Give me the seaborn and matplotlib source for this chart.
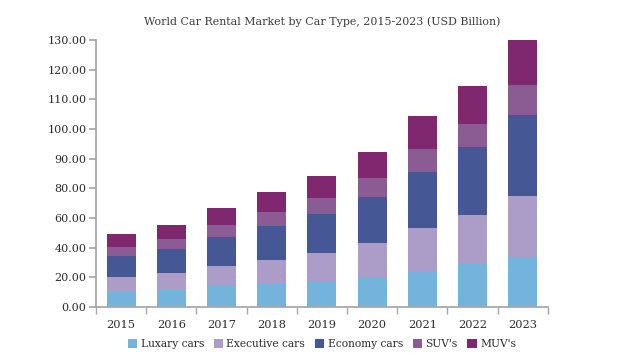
import numpy as np
import pandas as pd
import matplotlib
matplotlib.use("Agg")
import matplotlib.pyplot as plt
import seaborn as sns
from matplotlib.patches import Patch
from matplotlib.ticker import FixedLocator, FormatStrFormatter

# Data (USD Billion, per car type)
years = ["2015", "2016", "2017", "2018", "2019", "2020", "2021", "2022", "2023"]
luxury = [10.1, 11.7, 14.2, 16.4, 17.5, 19.6, 24.5, 29.0, 33.5]
executive = [9.9, 11.2, 13.2, 15.5, 18.9, 23.8, 28.8, 32.8, 41.1]
economy = [14.2, 16.2, 19.6, 22.7, 26.1, 30.8, 32.3, 32.1, 30.2]
suv = [6.0, 6.7, 8.1, 9.7, 10.8, 9.2, 7.8, 7.9, 9.9]
muv = [8.8, 9.7, 11.4, 13.2, 10.9, 9.0, 11.0, 12.8, 15.2]
series_names = ["Luxary cars", "Executive cars", "Economy cars", "SUV's", "MUV's"]
y_ticks = [0, 20, 40, 60, 80, 90, 100, 110, 120, 130]

colors = ["#74b4dc", "#ab9dc8", "#465796", "#8b5b94", "#7f2870"]

sns.set_theme(style="white")
plt.rcParams["font.family"] = ["DejaVu Serif"]


# the original axis is uneven: 20 per step up to 80, then 10 per step
def forward(v):
    v = np.asarray(v, dtype=float)
    return np.where(v <= 80, v / 20.0, 4 + (v - 80) / 10.0)


def inverse(p):
    p = np.asarray(p, dtype=float)
    return np.where(p <= 4, p * 20.0, 80 + (p - 4) * 10.0)


df = pd.DataFrame({"year": years})
layers = [luxury, executive, economy, suv, muv]
cum = np.cumsum(np.array(layers), axis=0)

fig = plt.figure(figsize=(6.4, 3.63), dpi=100)
ax = fig.add_axes([0.15, 0.154, 0.706, 0.736])

# draw cumulative totals from the top down so each layer sits on the one below
for i in range(len(layers) - 1, -1, -1):
    df["val"] = cum[i]
    sns.barplot(data=df, x="year", y="val", color=colors[i], width=0.58,
                saturation=1, ax=ax, linewidth=0)

ax.set_yscale("function", functions=(forward, inverse))
ax.set_ylim(0, 130)
ax.yaxis.set_major_locator(FixedLocator(y_ticks))
ax.yaxis.set_major_formatter(FormatStrFormatter("%.2f"))
ax.yaxis.set_minor_locator(FixedLocator([]))
ax.set_xlim(-0.5, len(years) - 0.5)
ax.set_xticks(range(len(years)))
ax.set_xticklabels(years)
ax.set_xticks(np.arange(-0.5, len(years)), minor=True)
ax.set_xlabel("")
ax.set_ylabel("")

spine_c = "#a6a6a6"
text_c = "#2b2b2b"
sns.despine(ax=ax)
ax.spines["left"].set_color(spine_c)
ax.spines["bottom"].set_color(spine_c)
ax.tick_params(axis="y", which="major", left=True, length=5, color=spine_c,
               labelsize=8, labelcolor=text_c, pad=2)
ax.tick_params(axis="x", which="major", bottom=False, labelsize=8.2,
               labelcolor=text_c, pad=3)
ax.tick_params(axis="x", which="minor", bottom=True, length=5, color=spine_c)

fig.text(0.503, 0.94, "World Car Rental Market by Car Type, 2015-2023 (USD Billion)",
         ha="center", va="center", fontsize=7.9, color="#3a3a3a")

handles = [Patch(facecolor=c, edgecolor="none") for c in colors]
fig.legend(handles, series_names, loc="center", bbox_to_anchor=(0.503, 0.052),
           ncol=5, frameon=False, fontsize=7.7, handlelength=0.9, handleheight=0.9,
           handletextpad=0.3, columnspacing=0.9, labelcolor=text_c)

fig.savefig("out.png", dpi=100, facecolor="white")
